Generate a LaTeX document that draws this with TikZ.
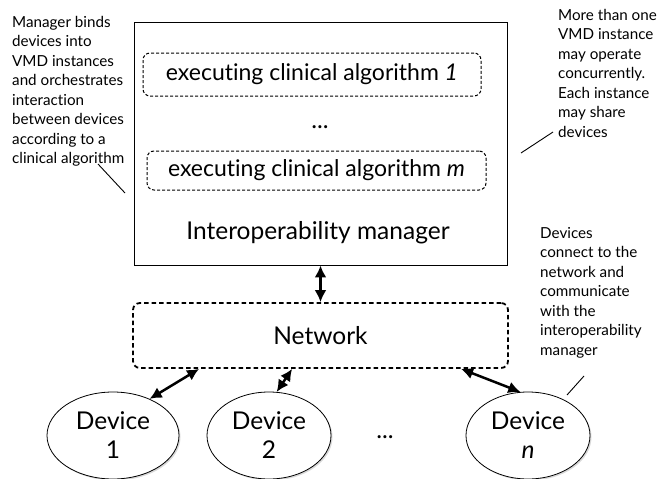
\documentclass[tikz,border=0pt]{standalone}
\usepackage{fontspec}
\setmainfont{Lato}[Ligatures={NoCommon}]
\usetikzlibrary{arrows.meta,shapes.geometric,calc,shadows}
\begin{document}
\begin{tikzpicture}[x=1pt,y=-1pt,
  bigtext/.style={font=\fontsize{24.5}{28}\selectfont, inner sep=0pt},
  note/.style={font=\fontsize{15.2}{19.5}\selectfont, align=left, anchor=north west, inner sep=0pt},
  algbox/.style={draw, rounded corners=7pt, line width=1pt, dash pattern=on 3pt off 2pt,
    font=\fontsize{23}{26}\selectfont, inner sep=0pt},
  netbox/.style={draw, rounded corners=7pt, line width=1.8pt, dash pattern=on 4.5pt off 3pt,
    font=\fontsize{24.5}{28}\selectfont, inner sep=0pt},
  mgrbox/.style={draw, line width=0.9pt, inner sep=0pt},
  dev/.style={draw, ellipse, line width=0.8pt, inner sep=0pt, align=center, fill=white,
    font=\fontsize{24.5}{29}\selectfont,
    drop shadow={shadow xshift=1.5pt, shadow yshift=-1.5pt, opacity=0.3}},
  biarrow/.style={{Latex[length=12pt,width=12pt]}-{Latex[length=12pt,width=12pt]}, line width=2.5pt},
  leader/.style={line width=0.9pt}
]
\useasboundingbox (0,0) rectangle (662,479);

% manager box and contents
\node[mgrbox, minimum width=373pt, minimum height=243pt] (mgr) at (320.5,143.5) {};
\node[algbox, minimum width=338pt, minimum height=43pt] (alg1) at (312,74.5)
  {executing clinical algorithm \textit{1}};
\node[bigtext] (dotsA) at (320,127) {...};
\node[algbox, minimum width=339pt, minimum height=39pt] (alg2) at (316.5,170.5)
  {executing clinical algorithm \textit{m}};
\node[bigtext] (mgrlabel) at (318,233) {Interoperability manager};

% network
\node[netbox, minimum width=375pt, minimum height=65pt] (net) at (320.5,335.5) {Network};

% devices
\node[dev, minimum width=132pt, minimum height=87pt] (dev1) at (113,435.5) {Device\\1};
\node[dev, minimum width=124pt, minimum height=87pt] (dev2) at (269,435.5) {Device\\2};
\node[bigtext] (dotsB) at (385,437) {...};
\node[dev, minimum width=124pt, minimum height=87pt] (devn) at (528,435.5) {Device\\\textit{n}};

% connectors
\draw[biarrow] (mgr.south) -- (net.north);
\draw[biarrow] ([xshift=67pt]net.south west) -- (dev1.45);
\draw[biarrow] ([xshift=160pt]net.south west) -- (dev2.80);
\draw[biarrow] ([xshift=329pt]net.south west) -- (devn.100);

% annotations
\node[note] (noteL) at (12,16) {Manager binds\\devices into\\VMD instances\\and orchestrates\\interaction\\between devices\\according to a\\clinical algorithm};
\node[note] (noteR) at (558,9) {More than one\\VMD instance\\may operate\\concurrently.\\Each instance\\may share\\devices};
\node[note] (noteD) at (540,227) {Devices\\connect to the\\network and\\communicate\\with the\\interoperability\\manager};

\coordinate (lA1) at (98,164);  \coordinate (lA2) at (125,193);
\coordinate (lB1) at (553,132); \coordinate (lB2) at (521,153);
\coordinate (lC1) at (584,376); \coordinate (lC2) at (567,395);
\draw[leader] (lA1) -- (lA2);
\draw[leader] (lB1) -- (lB2);
\draw[leader] (lC1) -- (lC2);
\end{tikzpicture}
\end{document}
